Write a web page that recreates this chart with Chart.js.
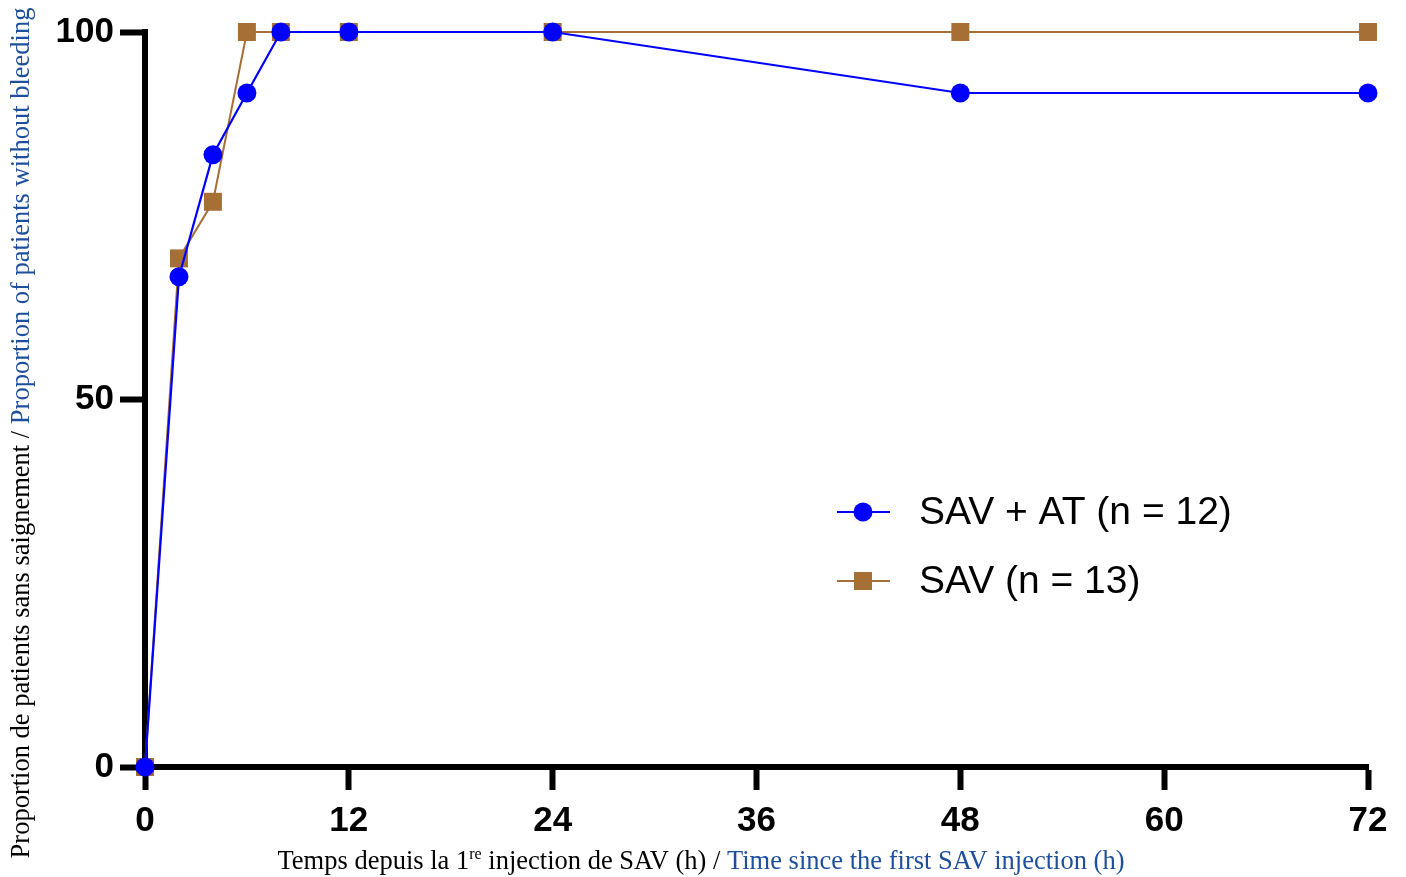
<!DOCTYPE html>
<html lang="fr">
<head>
    <meta charset="UTF-8">
    <title>Proportion de patients sans saignement</title>
    <script src="https://cdn.jsdelivr.net/npm/chart.js"></script>
    <style>
        html, body { margin: 0; padding: 0; background: #fff; }
        #wrap { width: 1406px; height: 877px; position: relative; }
    </style>
</head>
<body>
<div id="wrap"><canvas id="myChart"></canvas></div>
<script>
    // hours since first SAV injection
    const hours = [0, 2, 4, 6, 8, 12, 24, 48, 72];
    // proportion without bleeding (%)
    const savAt = [0, 66.7, 83.3, 91.7, 100, 100, 100, 91.7, 91.7];
    const sav = [0, 69.2, 76.9, 100, 100, 100, 100, 100, 100];
    const seriesLabels = ['SAV + AT (n = 12)', 'SAV (n = 13)'];
    const xTicks = [0, 12, 24, 36, 48, 60, 72];
    const yTicks = [0, 50, 100];

    const BLUE = '#0000ff';
    const BROWN = '#a66f36';
    const TITLE_BLUE = '#1d4f9c';

    const toPoints = vals => hours.map((h, i) => ({ x: h, y: vals[i] }));

    // draws mixed-colour axis titles and the in-plot legend
    const decorations = {
        id: 'decorations',
        afterDraw(chart) {
            const ctx = chart.ctx;
            const serif = '"Liberation Serif", "DejaVu Serif", serif';
            const size = 26.5;

            function drawParts(parts, cx, cy) {
                let total = 0;
                parts.forEach(p => {
                    ctx.font = (p.sup ? 16 : size) + 'px ' + serif;
                    p.w = ctx.measureText(p.text).width;
                    total += p.w;
                });
                let x = cx - total / 2;
                ctx.textBaseline = 'alphabetic';
                ctx.textAlign = 'left';
                parts.forEach(p => {
                    ctx.font = (p.sup ? 16 : size) + 'px ' + serif;
                    ctx.fillStyle = p.color;
                    ctx.fillText(p.text, x, cy - (p.sup ? 10 : 0));
                    x += p.w;
                });
            }

            ctx.save();
            drawParts([
                { text: 'Temps depuis la 1', color: '#000' },
                { text: 're', color: '#000', sup: true },
                { text: ' injection de SAV (h) / ', color: '#000' },
                { text: 'Time since the first SAV injection (h)', color: TITLE_BLUE }
            ], 701, 869);
            ctx.restore();

            ctx.save();
            ctx.translate(29, 433);
            ctx.rotate(-Math.PI / 2);
            drawParts([
                { text: 'Proportion de patients sans saignement / ', color: '#000' },
                { text: 'Proportion of patients without bleeding', color: TITLE_BLUE }
            ], 0, 0);
            ctx.restore();

            // legend
            const rows = [512, 581];
            chart.data.datasets.forEach((ds, i) => {
                const y = rows[i];
                ctx.save();
                ctx.strokeStyle = ds.borderColor;
                ctx.lineWidth = ds.borderWidth;
                ctx.beginPath();
                ctx.moveTo(837, y);
                ctx.lineTo(890, y);
                ctx.stroke();
                ctx.fillStyle = ds.pointBackgroundColor;
                if (ds.pointStyle === 'rect') {
                    ctx.fillRect(854, y - 9, 18, 18);
                } else {
                    ctx.beginPath();
                    ctx.arc(863, y, 9.5, 0, Math.PI * 2);
                    ctx.fill();
                }
                ctx.fillStyle = '#000';
                ctx.font = '39px "Liberation Sans", Arial, sans-serif';
                ctx.textAlign = 'left';
                ctx.textBaseline = 'middle';
                ctx.fillText(ds.label, 919, y + 1);
                ctx.restore();
            });
        }
    };

    new Chart(document.getElementById('myChart'), {
        type: 'line',
        data: {
            datasets: [
                {
                    label: seriesLabels[0],
                    data: toPoints(savAt),
                    borderColor: BLUE,
                    backgroundColor: BLUE,
                    pointBackgroundColor: BLUE,
                    pointBorderColor: BLUE,
                    borderWidth: 2.2,
                    pointStyle: 'circle',
                    pointRadius: 9.5,
                    pointBorderWidth: 0,
                    clip: false,
                    tension: 0
                },
                {
                    label: seriesLabels[1],
                    data: toPoints(sav),
                    borderColor: BROWN,
                    backgroundColor: BROWN,
                    pointBackgroundColor: BROWN,
                    pointBorderColor: BROWN,
                    borderWidth: 2,
                    pointStyle: 'rect',
                    pointRadius: 12.7,
                    pointBorderWidth: 0,
                    clip: false,
                    tension: 0
                }
            ]
        },
        options: {
            responsive: true,
            maintainAspectRatio: false,
            animation: false,
            layout: { padding: { top: 32, right: 38, left: 0, bottom: 0 } },
            plugins: {
                legend: { display: false },
                tooltip: { enabled: false }
            },
            scales: {
                x: {
                    type: 'linear',
                    min: 0,
                    max: 72,
                    afterBuildTicks: s => { s.ticks = xTicks.map(v => ({ value: v })); },
                    afterFit: s => { s.height = 110; },
                    border: { display: true, color: '#000', width: 6 },
                    grid: {
                        drawOnChartArea: false,
                        drawTicks: true,
                        tickLength: 23,
                        tickWidth: 6,
                        tickColor: '#000'
                    },
                    ticks: {
                        color: '#000',
                        padding: 10,
                        maxRotation: 0,
                        font: { family: '"Liberation Sans", Arial, sans-serif', size: 35, weight: 'bold' }
                    }
                },
                y: {
                    min: 0,
                    max: 100,
                    afterBuildTicks: s => { s.ticks = yTicks.map(v => ({ value: v })); },
                    afterFit: s => { s.width = 145; },
                    border: { display: true, color: '#000', width: 6 },
                    grid: {
                        drawOnChartArea: false,
                        drawTicks: true,
                        tickLength: 25,
                        tickWidth: 6,
                        tickColor: '#000'
                    },
                    ticks: {
                        color: '#000',
                        padding: 6,
                        font: { family: '"Liberation Sans", Arial, sans-serif', size: 35, weight: 'bold' }
                    }
                }
            }
        },
        plugins: [decorations]
    });
</script>
</body>
</html>
